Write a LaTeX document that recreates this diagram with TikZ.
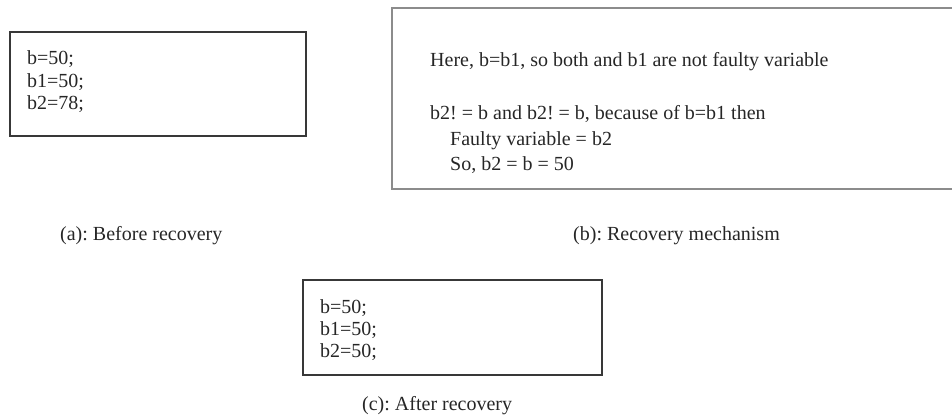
\documentclass[tikz,border=0pt]{standalone}
\usepackage{fontspec}
\setmainfont{Liberation Serif}
\frenchspacing
\begin{document}
\begin{tikzpicture}[x=1pt,y=-1pt,
  txt/.style={anchor=base west,inner sep=0pt,text=black!85,font=\fontsize{20}{23}\selectfont\frenchspacing},
  darkbox/.style={draw=black!78,line width=2.4pt,fill=none},
  graybox/.style={draw=black!45,line width=2pt}]
\useasboundingbox (0,0) rectangle (952,417);
% box a
\node[darkbox,rectangle,inner sep=0pt,minimum width=296pt,minimum height=104pt] (boxA) at (158,84) {};
\node[txt] (a1) at (27,65) {b=50;};
\node[txt] (a2) at (27,88) {b1=50;};
\node[txt] (a3) at (27,110) {b2=78;};
% box b (right side runs off the picture)
\coordinate (bTR) at (952,8);
\coordinate (bTL) at (392,8);
\coordinate (bBL) at (392,189);
\coordinate (bBR) at (952,189);
\draw[graybox] (bTR) -- (bTL) -- (bBL) -- (bBR);
\node[txt] (b1) at (430,67) {Here, b=b1, so both and b1 are not faulty variable};
\node[txt] (b2) at (430,120) {b2! = b and b2! = b, because of b=b1 then};
\node[txt] (b3) at (450,145) {Faulty variable = b2};
\node[txt] (b4) at (450,170) {So, b2 = b = 50};
% captions
\node[txt] (capA) at (60,240) {(a): Before recovery};
\node[txt] (capB) at (573,240) {(b): Recovery mechanism};
% box c
\node[darkbox,rectangle,inner sep=0pt,minimum width=299pt,minimum height=95pt] (boxC) at (452.5,327.5) {};
\node[txt] (c1) at (320,313) {b=50;};
\node[txt] (c2) at (320,335) {b1=50;};
\node[txt] (c3) at (320,357) {b2=50;};
\node[txt] (capC) at (362,410) {(c): After recovery};
\end{tikzpicture}
\end{document}
